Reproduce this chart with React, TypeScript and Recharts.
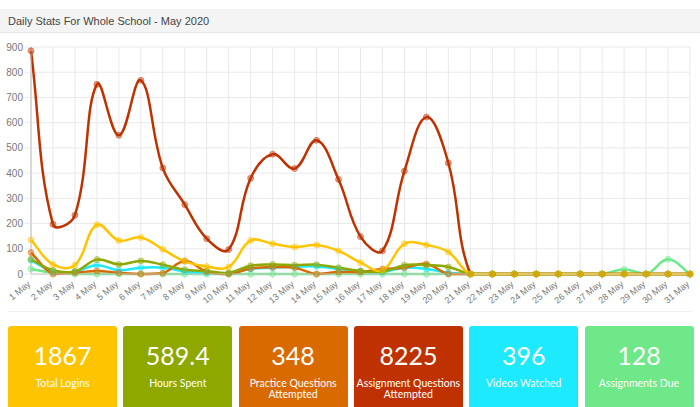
import React from "react";
import { CartesianGrid, Line, LineChart, XAxis, YAxis } from "recharts";

const days = Array.from({ length: 31 }, (_, i) => `${i + 1} May`);

const zeros10 = [0, 0, 0, 0, 0, 0, 0, 0, 0, 0];

const totalLogins = [135, 38, 35, 195, 133, 145, 98, 50, 30, 28, 133, 120, 107, 115, 92, 45, 15, 120, 115, 87, 0, ...zeros10];
const hoursSpent = [58, 15, 10, 57, 38, 52, 37, 17, 12, 5, 33, 38, 35, 37, 25, 12, 10, 35, 35, 28, 0, ...zeros10];
const practiceQuestions = [85, 0, 5, 12, 5, 0, 3, 52, 10, 0, 22, 27, 25, 0, 8, 8, 20, 25, 40, 0, 0, ...zeros10];
const assignmentQuestions = [885, 197, 233, 752, 550, 768, 420, 275, 140, 97, 380, 475, 418, 530, 375, 148, 92, 408, 622, 440, 0, ...zeros10];
const videosWatched = [55, 10, 10, 35, 15, 25, 25, 10, 5, 3, 20, 25, 28, 30, 20, 12, 8, 25, 20, 5, 0, ...zeros10];
const assignmentsDue = [20, 5, 0, 0, 0, 0, 0, 0, 0, 0, 0, 0, 0, 0, 0, 0, 0, 0, 0, 0, 0, 0, 0, 0, 0, 0, 0, 18, 0, 58, 0];

const yTicks = [0, 100, 200, 300, 400, 500, 600, 700, 800, 900];

const cards = [
  { value: "1867", label: "Total Logins", color: "#ffc400" },
  { value: "589.4", label: "Hours Spent", color: "#8ea800" },
  { value: "348", label: "Practice Questions Attempted", color: "#d96a00" },
  { value: "8225", label: "Assignment Questions Attempted", color: "#bf3200" },
  { value: "396", label: "Videos Watched", color: "#1de9ff" },
  { value: "128", label: "Assignments Due", color: "#6fe88a" },
];

const data = days.map((day, i) => ({
  day,
  logins: totalLogins[i],
  hours: hoursSpent[i],
  practice: practiceQuestions[i],
  assignment: assignmentQuestions[i],
  videos: videosWatched[i],
  due: assignmentsDue[i],
}));

// chart.js style spline (tension 0.4), control points capped at the lowest point
function chartJsCurve(context: any) {
  let pts: [number, number][] = [];
  return {
    areaStart() {},
    areaEnd() {},
    lineStart() {
      pts = [];
    },
    point(x: number, y: number) {
      pts.push([+x, +y]);
    },
    lineEnd() {
      if (!pts.length) return;
      const t = 0.4;
      const maxY = Math.max(...pts.map((p) => p[1]));
      const minY = Math.min(...pts.map((p) => p[1]));
      const ctrl = pts.map((cur, i) => {
        const prev = pts[i - 1] || cur;
        const next = pts[i + 1] || cur;
        const d01 = Math.hypot(cur[0] - prev[0], cur[1] - prev[1]);
        const d12 = Math.hypot(next[0] - cur[0], next[1] - cur[1]);
        let s01 = d01 / (d01 + d12);
        let s12 = d12 / (d01 + d12);
        if (isNaN(s01)) s01 = 0;
        if (isNaN(s12)) s12 = 0;
        const fa = t * s01;
        const fb = t * s12;
        const cap = (v: number) => Math.max(Math.min(v, maxY), Math.min(minY, 0));
        return {
          px: cur[0] - fa * (next[0] - prev[0]),
          py: cap(cur[1] - fa * (next[1] - prev[1])),
          nx: cur[0] + fb * (next[0] - prev[0]),
          ny: cap(cur[1] + fb * (next[1] - prev[1])),
        };
      });
      context.moveTo(pts[0][0], pts[0][1]);
      for (let i = 1; i < pts.length; i++) {
        context.bezierCurveTo(ctrl[i - 1].nx, ctrl[i - 1].ny, ctrl[i].px, ctrl[i].py, pts[i][0], pts[i][1]);
      }
    },
  };
}

function DayTick(props: any) {
  const { x, y, payload } = props;
  return (
    <text
      x={x}
      y={y + 4}
      transform={`rotate(-40 ${x} ${y + 4})`}
      textAnchor="end"
      fontSize={9}
      fill="#777"
      fontFamily="Liberation Sans, Arial, sans-serif"
    >
      {payload.value}
    </text>
  );
}

const series = [
  { key: "due", color: "#6fe88a" },
  { key: "videos", color: "#1de9ff" },
  { key: "assignment", color: "#bf3200" },
  { key: "practice", color: "#d96a00" },
  { key: "hours", color: "#8ea800" },
  { key: "logins", color: "#ffc400" },
];

export default function App() {
  return (
    <div style={{ position: "absolute", left: 0, top: 0, width: 700, height: 407, overflow: "hidden", background: "#fff" }}>
      <div
        style={{
          position: "absolute",
          left: 0,
          top: 9,
          width: 700,
          height: 24,
          background: "#f4f4f4",
          borderBottom: "1px solid #e6e6e6",
          fontFamily: "Liberation Sans, Arial, sans-serif",
          fontSize: 11,
          color: "#444",
          lineHeight: "24px",
          paddingLeft: 8,
          boxSizing: "border-box",
        }}
      >
        Daily Stats For Whole School - May 2020
      </div>

      <div style={{ position: "absolute", left: 0, top: 36 }}>
        <LineChart width={700} height={270} data={data} margin={{ top: 11, right: 10, bottom: 0, left: 0 }}>
          <CartesianGrid stroke="#e9e9e9" strokeWidth={1} />
          <XAxis
            dataKey="day"
            interval={0}
            height={32}
            tick={<DayTick />}
            tickLine={{ stroke: "#e9e9e9" }}
            tickSize={5}
            axisLine={{ stroke: "#c8c8c8" }}
          />
          <YAxis
            width={31}
            domain={[0, 900]}
            ticks={yTicks}
            interval={0}
            tick={{ fontSize: 10, fill: "#777", fontFamily: "Liberation Sans, Arial, sans-serif" }}
            tickSize={6}
            tickMargin={2}
            tickLine={{ stroke: "#e9e9e9" }}
            axisLine={{ stroke: "#bdbdbd" }}
          />
          {series.map((s) => (
            <Line
              key={s.key}
              dataKey={s.key}
              type={chartJsCurve as any}
              stroke={s.color}
              strokeWidth={2.5}
              dot={{ r: 3, fill: s.color, fillOpacity: 0.45, stroke: s.color, strokeOpacity: 0.45, strokeWidth: 1 }}
              activeDot={false}
              isAnimationActive={false}
            />
          ))}
        </LineChart>
      </div>

      <div style={{ position: "absolute", left: 8, top: 311, width: 684, height: 1, background: "#efefef" }} />

      {cards.map((c, i) => (
        <div
          key={c.label}
          style={{
            position: "absolute",
            left: 8 + i * 115.3,
            top: 326,
            width: 109,
            height: 95,
            background: c.color,
            borderRadius: 3,
            color: "#fff",
            textAlign: "center",
            fontFamily: "Lato, Noto Sans, sans-serif",
          }}
        >
          <div style={{ marginTop: 14, fontSize: 25, lineHeight: "30px" }}>{c.value}</div>
          <div style={{ marginTop: 8, fontSize: 10.5, lineHeight: "11px", padding: "0 1px", whiteSpace: "normal" }}>{c.label}</div>
        </div>
      ))}
    </div>
  );
}
